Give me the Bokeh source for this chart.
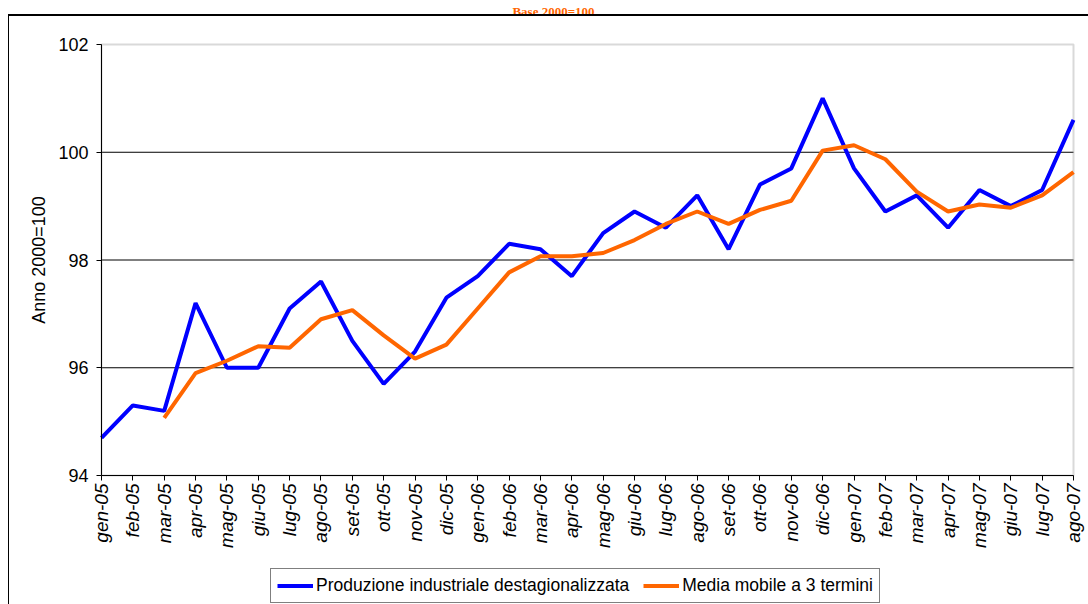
import math
from bokeh.plotting import figure
from bokeh.models import (ColumnDataSource, Range1d, FixedTicker, Legend, LegendItem,
                          InlineStyleSheet, LinearAxis, Label, BoxAnnotation)
from bokeh.embed import file_html
from bokeh.resources import INLINE

months = ["gen-05", "feb-05", "mar-05", "apr-05", "mag-05", "giu-05", "lug-05", "ago-05",
          "set-05", "ott-05", "nov-05", "dic-05", "gen-06", "feb-06", "mar-06", "apr-06",
          "mag-06", "giu-06", "lug-06", "ago-06", "set-06", "ott-06", "nov-06", "dic-06",
          "gen-07", "feb-07", "mar-07", "apr-07", "mag-07", "giu-07", "lug-07", "ago-07"]

produzione = [94.7, 95.3, 95.2, 97.2, 96.0, 96.0, 97.1, 97.6, 96.5, 95.7, 96.3, 97.3,
              97.7, 98.3, 98.2, 97.7, 98.5, 98.9, 98.6, 99.2, 98.2, 99.4, 99.7, 101.0,
              99.7, 98.9, 99.2, 98.6, 99.3, 99.0, 99.3, 100.6]

media_mobile = [float("nan"), float("nan"), 95.07, 95.9, 96.13, 96.4, 96.37, 96.9,
                97.07, 96.6, 96.17, 96.43, 97.1, 97.77, 98.07, 98.07, 98.13, 98.37,
                98.67, 98.9, 98.67, 98.93, 99.1, 100.03, 100.13, 99.87, 99.27, 98.9,
                99.03, 98.97, 99.2, 99.63]

y_ticks = [94, 96, 98, 100, 102]
grid_ticks = [96, 98, 100]
title_text = "Base 2000=100"
y_label = "Anno 2000=100"
label_blue = "Produzione industriale destagionalizzata"
label_orange = "Media mobile a 3 termini"

idx = list(range(len(months)))
src = ColumnDataSource(dict(x=idx, prod=produzione, mm=media_mobile))
n_last = len(months) - 1

FONT = "Liberation Sans"

# layout (pixels): plot area x 101..1073, y 44..475 ; the frame covers the whole canvas
W, H = 1088, 604
PL, PR, PT, PB = 101, 1073, 44, 475
Y_MIN, Y_MAX = y_ticks[0], y_ticks[-1]
ppu_y = (PB - PT) / (Y_MAX - Y_MIN)
ppu_x = (PR - PL) / n_last
x_lo, x_hi = -PL / ppu_x, n_last + (W - PR) / ppu_x
y_lo, y_hi = Y_MIN - (H - PB) / ppu_y, Y_MAX + PT / ppu_y

p = figure(width=W, height=H, output_backend="svg", toolbar_location=None,
           x_range=Range1d(x_lo, x_hi), y_range=Range1d(y_lo, y_hi),
           x_axis_location=None, y_axis_location=None,
           min_border_left=0, min_border_right=0, min_border_top=0, min_border_bottom=0)

p.background_fill_color = "white"
p.border_fill_color = "white"
p.outline_line_color = None
p.grid.visible = False

# outer chart frame drawn with CSS
p.stylesheets = [InlineStyleSheet(css="""
:host { position: relative; }
:host::after {
  content: "";
  position: absolute;
  left: 8px; top: 14px; right: 0px; bottom: 0px;
  border-left: 1px solid #000;
  border-top: 2px solid #000;
  pointer-events: none;
  z-index: 10;
}
""")]

# horizontal grid lines across the plot area
p.segment(x0=[0] * len(grid_ticks), x1=[n_last] * len(grid_ticks), y0=grid_ticks, y1=grid_ticks,
          line_color="black", line_width=1, level="underlay")

# plot-area border (gray)
plot_area = BoxAnnotation(left=0, right=n_last, bottom=Y_MIN, top=Y_MAX,
                          fill_alpha=0, line_color="#808080", line_width=2, level="underlay")
p.add_layout(plot_area)

# x axis fixed at the bottom of the plot area
xaxis = LinearAxis(fixed_location=Y_MIN, bounds=(0, n_last))
xaxis.ticker = FixedTicker(ticks=idx)
xaxis.major_label_overrides = {i: m for i, m in enumerate(months)}
xaxis.major_label_orientation = math.pi / 2
xaxis.major_label_text_font = FONT
xaxis.major_label_text_font_style = "italic"
xaxis.major_label_text_font_size = "19px"
xaxis.major_label_text_color = "black"
xaxis.major_label_standoff = 3
xaxis.major_tick_out = 5
xaxis.major_tick_in = 0
xaxis.minor_tick_line_color = None
xaxis.axis_line_color = "black"
xaxis.major_tick_line_color = "black"
p.add_layout(xaxis, "below")

# y axis fixed at the left of the plot area
yaxis = LinearAxis(fixed_location=0, bounds=(Y_MIN, Y_MAX))
yaxis.ticker = FixedTicker(ticks=y_ticks)
yaxis.major_label_text_font = FONT
yaxis.major_label_text_font_size = "18px"
yaxis.major_label_text_color = "black"
yaxis.major_label_standoff = 8
yaxis.major_tick_out = 5
yaxis.major_tick_in = 0
yaxis.minor_tick_line_color = None
yaxis.axis_line_color = "black"
yaxis.major_tick_line_color = "black"
p.add_layout(yaxis, "left")

ylab = Label(x=38, y=H - (PT + PB) / 2, x_units="screen", y_units="screen", text=y_label,
             angle=math.pi / 2, text_align="center", text_baseline="middle",
             text_font=FONT, text_font_size="18px", text_color="black")
p.add_layout(ylab)

r_blue = p.line("x", "prod", source=src, line_color="#0000FF", line_width=4)
r_orange = p.line("x", "mm", source=src, line_color="#FF6600", line_width=4)

legend = Legend(items=[LegendItem(label=label_blue, renderers=[r_blue]),
                       LegendItem(label=label_orange, renderers=[r_orange])],
                location=(270, 1), orientation="horizontal")
legend.label_text_font = FONT
legend.label_text_font_size = "17.5px"
legend.label_text_color = "black"
legend.glyph_width = 36
legend.glyph_height = 19
legend.label_height = 19
legend.label_standoff = 3
legend.spacing = 14
legend.padding = 6
legend.margin = 0
legend.border_line_color = "black"
legend.border_line_width = 1
legend.background_fill_color = "white"
legend.background_fill_alpha = 1
p.add_layout(legend)

# title (mostly cut off in the original; kept small above the chart frame)
title = Label(x=553, y=H - 11, x_units="screen", y_units="screen", text=title_text,
              text_align="center", text_baseline="alphabetic",
              text_font="Liberation Serif", text_font_style="bold",
              text_font_size="13px", text_color="#FF6600")
p.add_layout(title)

open("out.html", "w").write(file_html(p, INLINE))
